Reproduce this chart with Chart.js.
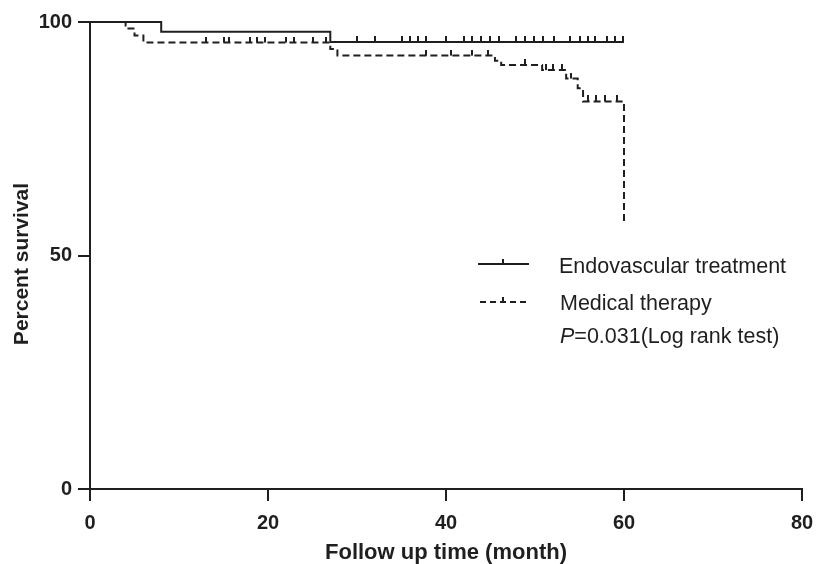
<!DOCTYPE html>
<html>
<head>
<meta charset="utf-8">
<script src="https://cdn.jsdelivr.net/npm/chart.js@4.4.1/dist/chart.umd.min.js"></script>
<style>
  html, body { margin: 0; padding: 0; background: #fff; }
  #wrap { width: 816px; height: 564px; }
</style>
</head>
<body>
<div id="wrap"><canvas id="c" width="816" height="564"></canvas></div>
<script>
// ---- Data ----
const seriesNames = ['Endovascular treatment', 'Medical therapy'];
const endoTimes = [0, 8, 27, 60];
const endoSurv  = [100, 97.9, 95.7, 95.7];
const endoCensor = [30.0, 32.0, 35.1, 36.0, 36.9, 37.7, 40.0, 42.0, 42.9, 43.9, 44.9, 45.9, 47.9, 48.9, 49.9, 50.9, 52.1, 53.9, 55.1, 56.0, 56.7, 58.1, 59.0, 59.9];
const medTimes = [0, 4, 5, 6, 27, 27.8, 45.5, 46.2, 50.8, 53.5, 54.8, 55.4, 60];
const medSurv  = [100, 98.6, 97.1, 95.6, 94.2, 92.8, 91.7, 90.8, 89.7, 87.9, 85.8, 83.0, 57.2];
const medCensor = [13, 15, 15.6, 18, 18.8, 19.7, 22, 22.9, 25, 26.5, 37.8, 40.6, 42.9, 44.7, 48.9, 51.2, 52.0, 53.0, 54.1, 56.0, 56.8, 57.9, 59.2];
const xTicks = [0, 20, 40, 60, 80];
const yTicks = [0, 50, 100];
const xTitle = 'Follow up time (month)';
const yTitle = 'Percent survival';
const pText = '=0.031(Log rank test)';

// ---- Styles ----
const INK = '#1f1f1f';
const FONT = '"Liberation Sans", Arial, Helvetica, sans-serif';

function stepPoints(times, surv) {
  return times.map((t, i) => ({ x: t, y: surv[i] }));
}
function survAt(times, surv, t) {
  let s = surv[0];
  for (let i = 0; i < times.length; i++) { if (times[i] <= t) s = surv[i]; }
  return s;
}
function censorPoints(times, surv, cens) {
  return cens.map(t => ({ x: t, y: survAt(times, surv, t) }));
}
function makeTick(h) {
  const c = document.createElement('canvas');
  c.width = 2; c.height = 2 * h;
  const g = c.getContext('2d');
  g.fillStyle = INK;
  g.fillRect(0, 0, 2, h);
  return c;
}
const tickImg = makeTick(6);

const legendPlugin = {
  id: 'kmLegend',
  afterDraw(chart) {
    const ctx = chart.ctx;
    ctx.save();
    ctx.strokeStyle = INK; ctx.fillStyle = INK; ctx.lineWidth = 2;
    // solid sample
    ctx.beginPath(); ctx.moveTo(478, 264); ctx.lineTo(529, 264); ctx.stroke();
    ctx.beginPath(); ctx.moveTo(503, 264); ctx.lineTo(503, 259); ctx.stroke();
    // dashed sample
    ctx.setLineDash([6, 4]);
    ctx.beginPath(); ctx.moveTo(480, 302); ctx.lineTo(530, 302); ctx.stroke();
    ctx.setLineDash([]);
    ctx.beginPath(); ctx.moveTo(503, 302); ctx.lineTo(503, 297); ctx.stroke();
    // texts
    ctx.textBaseline = 'alphabetic'; ctx.textAlign = 'left';
    ctx.font = '21.5px ' + FONT;
    ctx.fillText(seriesNames[0], 559, 273);
    ctx.fillText(seriesNames[1], 560, 310);
    ctx.font = 'italic 21.5px ' + FONT;
    ctx.fillText('P', 560, 343);
    const w = ctx.measureText('P').width;
    ctx.font = '21.5px ' + FONT;
    ctx.fillText(pText, 560 + w, 343);
    // y axis title
    ctx.translate(22, 264);
    ctx.rotate(-Math.PI / 2);
    ctx.textAlign = 'center'; ctx.textBaseline = 'middle';
    ctx.font = 'bold 21px ' + FONT;
    ctx.fillText(yTitle, 0, 0);
    ctx.restore();
  }
};

new Chart(document.getElementById('c'), {
  type: 'line',
  data: {
    datasets: [
      { label: seriesNames[0], data: stepPoints(endoTimes, endoSurv), stepped: 'before',
        borderColor: INK, borderWidth: 2, pointRadius: 0, fill: false, clip: false },
      { label: seriesNames[1], data: stepPoints(medTimes, medSurv), stepped: 'before',
        borderColor: INK, borderWidth: 2, borderDash: [7, 4], pointRadius: 0, fill: false, clip: false },
      { type: 'scatter', label: 'c1', data: censorPoints(endoTimes, endoSurv, endoCensor),
        showLine: false, pointStyle: tickImg, pointRadius: 4, clip: false },
      { type: 'scatter', label: 'c2', data: censorPoints(medTimes, medSurv, medCensor),
        showLine: false, pointStyle: tickImg, pointRadius: 4, clip: false }
    ]
  },
  options: {
    responsive: false,
    animation: false,
    devicePixelRatio: 1,
    layout: { padding: { top: 22, right: 14, left: 0, bottom: 0 } },
    plugins: { legend: { display: false }, tooltip: { enabled: false } },
    scales: {
      x: {
        type: 'linear', min: 0, max: 80,
        afterBuildTicks: s => { s.ticks = xTicks.map(v => ({ value: v })); },
        afterFit: s => { s.height = 75; s.paddingRight = 0; s.paddingLeft = 0; },
        grid: { display: true, drawOnChartArea: false, drawTicks: true, tickLength: 12, lineWidth: 2, color: INK },
        border: { display: true, color: INK, width: 2 },
        ticks: { color: INK, padding: 10, font: { family: FONT, size: 20, weight: 'bold' } },
        title: { display: true, text: xTitle, color: INK,
                 padding: { top: 0, bottom: 0 }, font: { family: FONT, size: 22, weight: 'bold', lineHeight: 1 } }
      },
      y: {
        type: 'linear', min: 0, max: 100,
        afterBuildTicks: s => { s.ticks = yTicks.map(v => ({ value: v })); },
        afterFit: s => { s.width = 90; s.paddingTop = 0; s.paddingBottom = 0; },
        grid: { display: true, drawOnChartArea: false, drawTicks: true, tickLength: 12, lineWidth: 2, color: INK },
        border: { display: true, color: INK, width: 2 },
        ticks: { color: INK, padding: 6, font: { family: FONT, size: 20, weight: 'bold' } },
        title: { display: false }
      }
    }
  },
  plugins: [legendPlugin]
});
</script>
</body>
</html>
